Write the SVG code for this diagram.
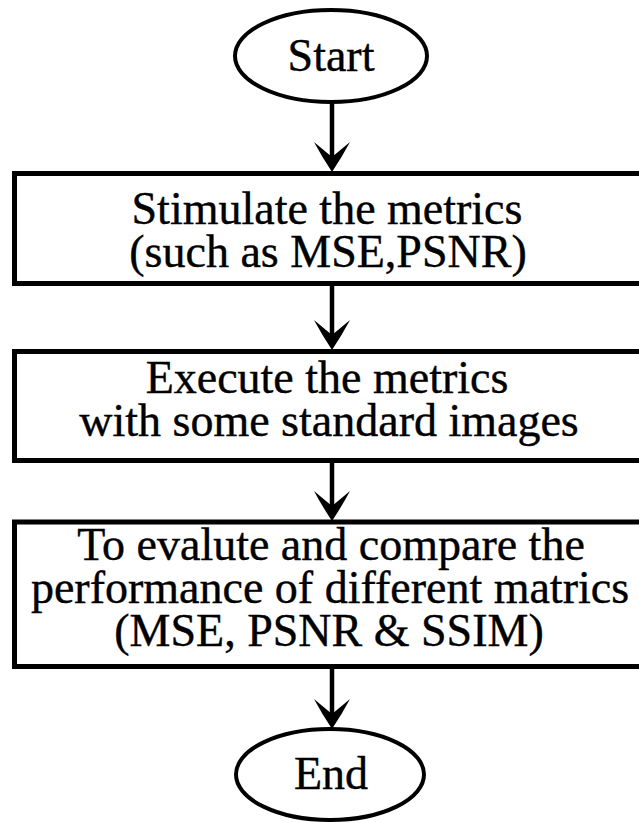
<svg xmlns="http://www.w3.org/2000/svg" width="639" height="823" viewBox="0 0 639 823">
  <style>
    .shape { fill: #ffffff; stroke: #000000; stroke-width: 5; }
    .term { fill: #ffffff; stroke: #000000; stroke-width: 4; }
    .lbl { font-family: "Liberation Serif", "Times New Roman", serif; font-size: 46px; text-anchor: middle; fill: #000000; stroke: #000000; stroke-width: 0.4; }
    .conn { stroke: #000000; stroke-width: 4.5; fill: none; }
  </style>
  <defs>
    <!-- barbed arrowhead; reference point is the notch so the shaft ends inside the head -->
    <marker id="arrow" markerUnits="userSpaceOnUse" viewBox="0 -20 32 40" markerWidth="32" markerHeight="40" refX="15" refY="0" orient="auto">
      <path d="M30,0 Q15,-10 0,-18 L15,0 L0,18 Q15,10 30,0 Z" fill="#000000"/>
    </marker>
  </defs>

  <rect width="639" height="823" fill="#ffffff"/>

  <g id="connectors">
    <line class="conn" x1="332" y1="103" x2="332" y2="157" marker-end="url(#arrow)"/>
    <line class="conn" x1="332" y1="286" x2="332" y2="335" marker-end="url(#arrow)"/>
    <line class="conn" x1="332" y1="463" x2="332" y2="506" marker-end="url(#arrow)"/>
    <line class="conn" x1="332" y1="669" x2="332" y2="714" marker-end="url(#arrow)"/>
  </g>

  <g id="start">
    <ellipse class="term" cx="331" cy="56" rx="96" ry="46"/>
    <text class="lbl" x="331" y="71">Start</text>
  </g>

  <g id="stimulate">
    <rect class="shape" x="14.5" y="173.5" width="632" height="110"/>
    <text class="lbl" x="327" y="224">Stimulate the metrics</text>
    <text class="lbl" x="328" y="267">(such as MSE,PSNR)</text>
  </g>

  <g id="execute">
    <rect class="shape" x="14.5" y="351.5" width="632" height="109"/>
    <text class="lbl" x="327" y="393">Execute the metrics</text>
    <text class="lbl" x="329" y="436">with some standard images</text>
  </g>

  <g id="evaluate">
    <rect class="shape" x="14.5" y="522" width="632" height="144.5"/>
    <text class="lbl" x="331" y="560">To evalute and compare the</text>
    <text class="lbl" x="330" y="603">performance of different matrics</text>
    <text class="lbl" x="329" y="646">(MSE, PSNR &amp; SSIM)</text>
  </g>

  <g id="end">
    <ellipse class="term" cx="330" cy="774.5" rx="94" ry="45.5"/>
    <text class="lbl" x="331" y="789">End</text>
  </g>
</svg>
